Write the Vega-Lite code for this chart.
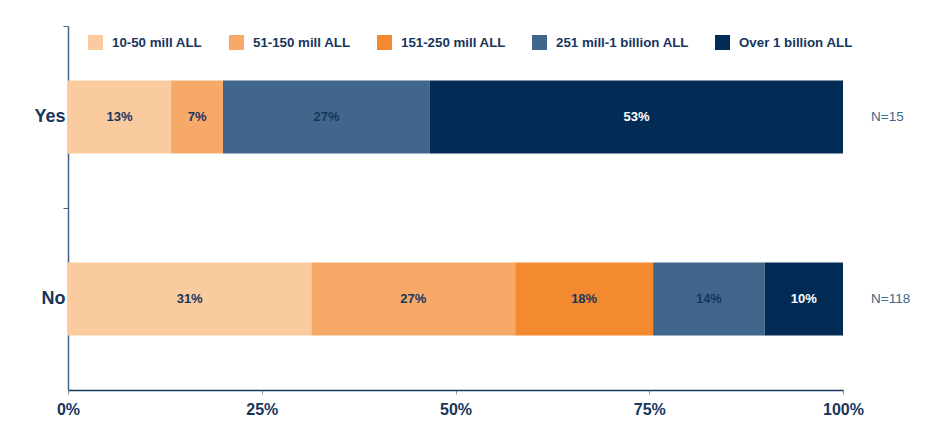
{
  "$schema": "https://vega.github.io/schema/vega-lite/v6.json",
  "width": 775,
  "height": 364,
  "autosize": "none",
  "padding": {"left": 68, "top": 26, "right": 89, "bottom": 32},
  "background": "white",
  "config": {
    "font": "Liberation Sans",
    "view": {"stroke": null}
  },
  "datasets": {
    "bars": [
      {"resp": "Yes", "cat": "10-50 mill ALL", "k": 1, "value": 0.133, "label": "13%"},
      {"resp": "Yes", "cat": "51-150 mill ALL", "k": 2, "value": 0.067, "label": "7%"},
      {"resp": "Yes", "cat": "251 mill-1 billion ALL", "k": 4, "value": 0.267, "label": "27%"},
      {"resp": "Yes", "cat": "Over 1 billion ALL", "k": 5, "value": 0.533, "label": "53%"},
      {"resp": "No", "cat": "10-50 mill ALL", "k": 1, "value": 0.314, "label": "31%"},
      {"resp": "No", "cat": "51-150 mill ALL", "k": 2, "value": 0.263, "label": "27%"},
      {"resp": "No", "cat": "151-250 mill ALL", "k": 3, "value": 0.178, "label": "18%"},
      {"resp": "No", "cat": "251 mill-1 billion ALL", "k": 4, "value": 0.144, "label": "14%"},
      {"resp": "No", "cat": "Over 1 billion ALL", "k": 5, "value": 0.101, "label": "10%"}
    ],
    "ns": [
      {"resp": "Yes", "n": "N=15", "pos": 1},
      {"resp": "No", "n": "N=118", "pos": 1}
    ]
  },
  "encoding": {
    "y": {
      "field": "resp",
      "type": "nominal",
      "sort": ["Yes", "No"],
      "scale": {"paddingInner": 0, "paddingOuter": 0},
      "axis": {
        "title": null,
        "bandPosition": 0,
        "domainColor": "#41668C",
        "domainWidth": 1.5,
        "tickColor": "#41668C",
        "tickSize": 5,
        "labelPadding": -2,
        "labelFont": "Liberation Sans",
        "labelFontSize": 18,
        "labelFontWeight": "bold",
        "labelColor": "#17365D"
      }
    }
  },
  "layer": [
    {
      "data": {"name": "bars"},
      "mark": {"type": "bar", "height": {"band": 0.4}},
      "encoding": {
        "x": {
          "field": "value",
          "type": "quantitative",
          "stack": "zero",
          "scale": {"domain": [0, 1], "nice": false},
          "axis": {
            "title": null,
            "format": ".0%",
            "values": [0, 0.25, 0.5, 0.75, 1],
            "grid": false,
            "labelFlush": false,
            "domainColor": "#17365D",
            "domainWidth": 1.5,
            "tickColor": "#7F95AD",
            "tickSize": 4,
            "labelPadding": 7,
            "labelFontSize": 16,
            "labelFontWeight": "bold",
            "labelColor": "#17365D"
          }
        },
        "color": {
          "field": "cat",
          "type": "nominal",
          "scale": {
            "domain": ["10-50 mill ALL", "51-150 mill ALL", "151-250 mill ALL", "251 mill-1 billion ALL", "Over 1 billion ALL"],
            "range": ["#FBCBA0", "#F7A96A", "#F38A30", "#41668C", "#022C55"]
          },
          "legend": {
            "title": null,
            "orient": "none",
            "direction": "horizontal",
            "legendX": 20,
            "legendY": 9,
            "symbolType": "square",
            "symbolSize": 225,
            "symbolStrokeWidth": 0,
            "symbolOpacity": 1,
            "labelOffset": 9,
            "columnPadding": 26,
            "labelFontSize": 13.3,
            "labelFontWeight": "bold",
            "labelColor": "#17365D"
          }
        },
        "order": {"field": "k", "type": "quantitative"}
      }
    },
    {
      "data": {"name": "bars"},
      "mark": {"type": "text", "fontSize": 13, "fontWeight": "bold"},
      "encoding": {
        "x": {"field": "value", "type": "quantitative", "stack": "zero", "bandPosition": 0.5},
        "text": {"field": "label"},
        "order": {"field": "k", "type": "quantitative"},
        "color": {
          "condition": {"test": "datum.cat === 'Over 1 billion ALL'", "value": "white"},
          "value": "#17365D"
        }
      }
    },
    {
      "data": {"name": "ns"},
      "mark": {"type": "text", "fontSize": 13.5, "align": "left", "dx": 28, "color": "#41668C"},
      "encoding": {
        "x": {"field": "pos", "type": "quantitative"},
        "text": {"field": "n"}
      }
    }
  ]
}
